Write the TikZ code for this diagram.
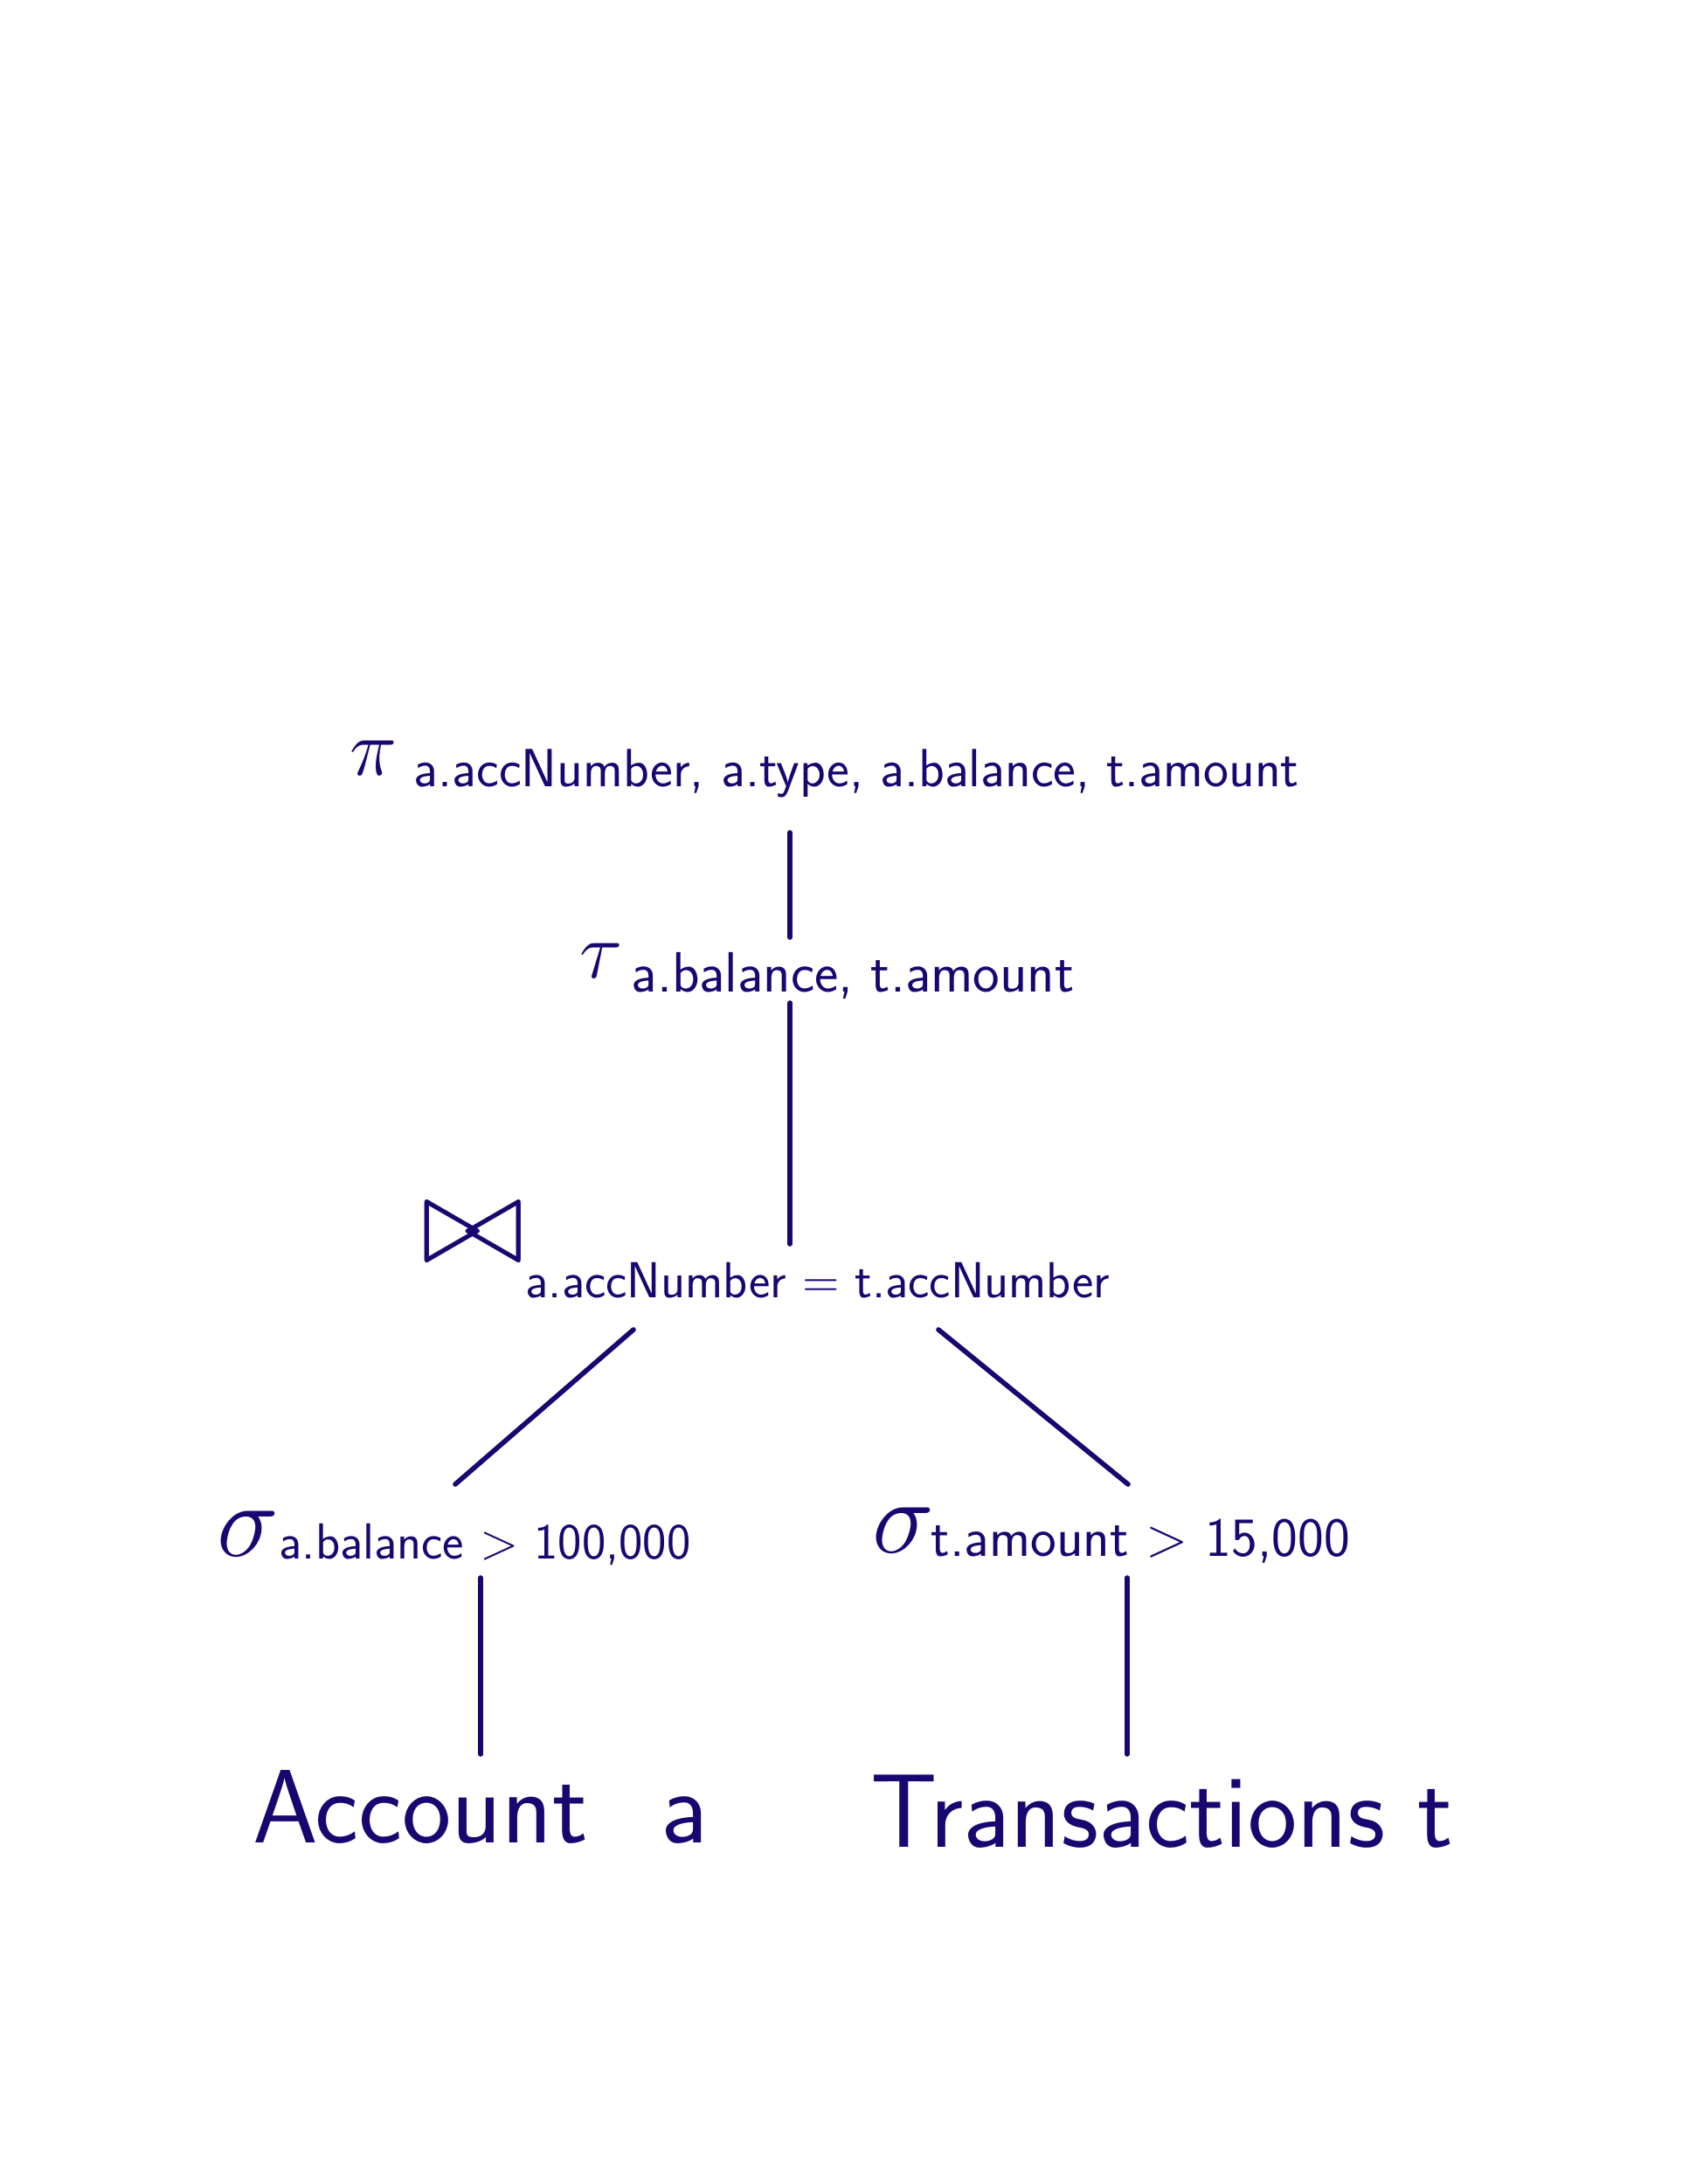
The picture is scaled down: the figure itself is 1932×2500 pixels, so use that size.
\RequirePackage{fix-cm}
\documentclass[tikz,border=0pt]{standalone}
\usepackage{amsmath,amssymb}
\usetikzlibrary{positioning}
\definecolor{inkblue}{RGB}{22,8,112}

\begin{document}
\begin{tikzpicture}[x=0.01cm,y=-0.01cm,
    every node/.style={text=inkblue, inner sep=0pt},
    opsym/.style={font=\fontsize{26}{30}\selectfont},
    cond/.style={font=\sffamily\fontsize{17.5}{20}\selectfont, anchor=west},
    rel/.style={font=\sffamily\fontsize{34}{40}\selectfont},
    edge/.style={draw=inkblue, line width=1.6pt, line cap=round}]
    \useasboundingbox (0,0) rectangle (1932,2500);
    % projection
    \node[opsym] (proj) at (428,868) {$\pi$};
    \node[cond] (projsub) at (473,885) {a.accNumber, a.type, a.balance, t.amount};
    % sort
    \node[opsym] (sort) at (688,1100) {$\tau$};
    \node[cond, font=\sffamily\fontsize{18.5}{22}\selectfont] (sortsub) at (722,1117) {a.balance, t.amount};
    % join
    \node[font=\fontsize{41}{45}\selectfont] (join) at (541,1412) {$\bowtie$};
    \node[cond, font=\sffamily\fontsize{16.5}{20}\selectfont] (joinsub) at (601,1466) {a.accNumber = t.accNumber};
    % selections
    \node[font=\fontsize{34}{38}\selectfont] (selA) at (284,1756) {$\sigma$};
    \node[cond, font=\sffamily\fontsize{16.5}{20}\selectfont] (selAsub) at (319,1768) {a.balance > 100,000};
    \node[font=\fontsize{34}{38}\selectfont] (selT) at (1034,1752) {$\sigma$};
    \node[cond, font=\sffamily\fontsize{18}{21}\selectfont] (selTsub) at (1065,1764) {t.amount > 15,000};
    % relations
    \node[rel] (acc) at (550,2068) {Account\hspace{0.7em}a};
    \node[rel] (trans) at (1330,2074) {Transactions t};
    % connectors
    \coordinate (projdown) at (904,953);
    \coordinate (sortup) at (904,1073);
    \coordinate (sortdown) at (904,1148);
    \coordinate (joinup) at (904,1424);
    \coordinate (joinleft) at (725,1522);
    \coordinate (joinright) at (1074,1522);
    \coordinate (selAup) at (521,1699);
    \coordinate (selTup) at (1291,1699);
    \coordinate (selAdown) at (550,1806);
    \coordinate (selTdown) at (1290,1806);
    \coordinate (accup) at (550,2008);
    \coordinate (transup) at (1290,2008);
    \draw[edge] (projdown) -- (sortup);
    \draw[edge] (sortdown) -- (joinup);
    \draw[edge] (joinleft) -- (selAup);
    \draw[edge] (joinright) -- (selTup);
    \draw[edge] (selAdown) -- (accup);
    \draw[edge] (selTdown) -- (transup);
\end{tikzpicture}
\end{document}
